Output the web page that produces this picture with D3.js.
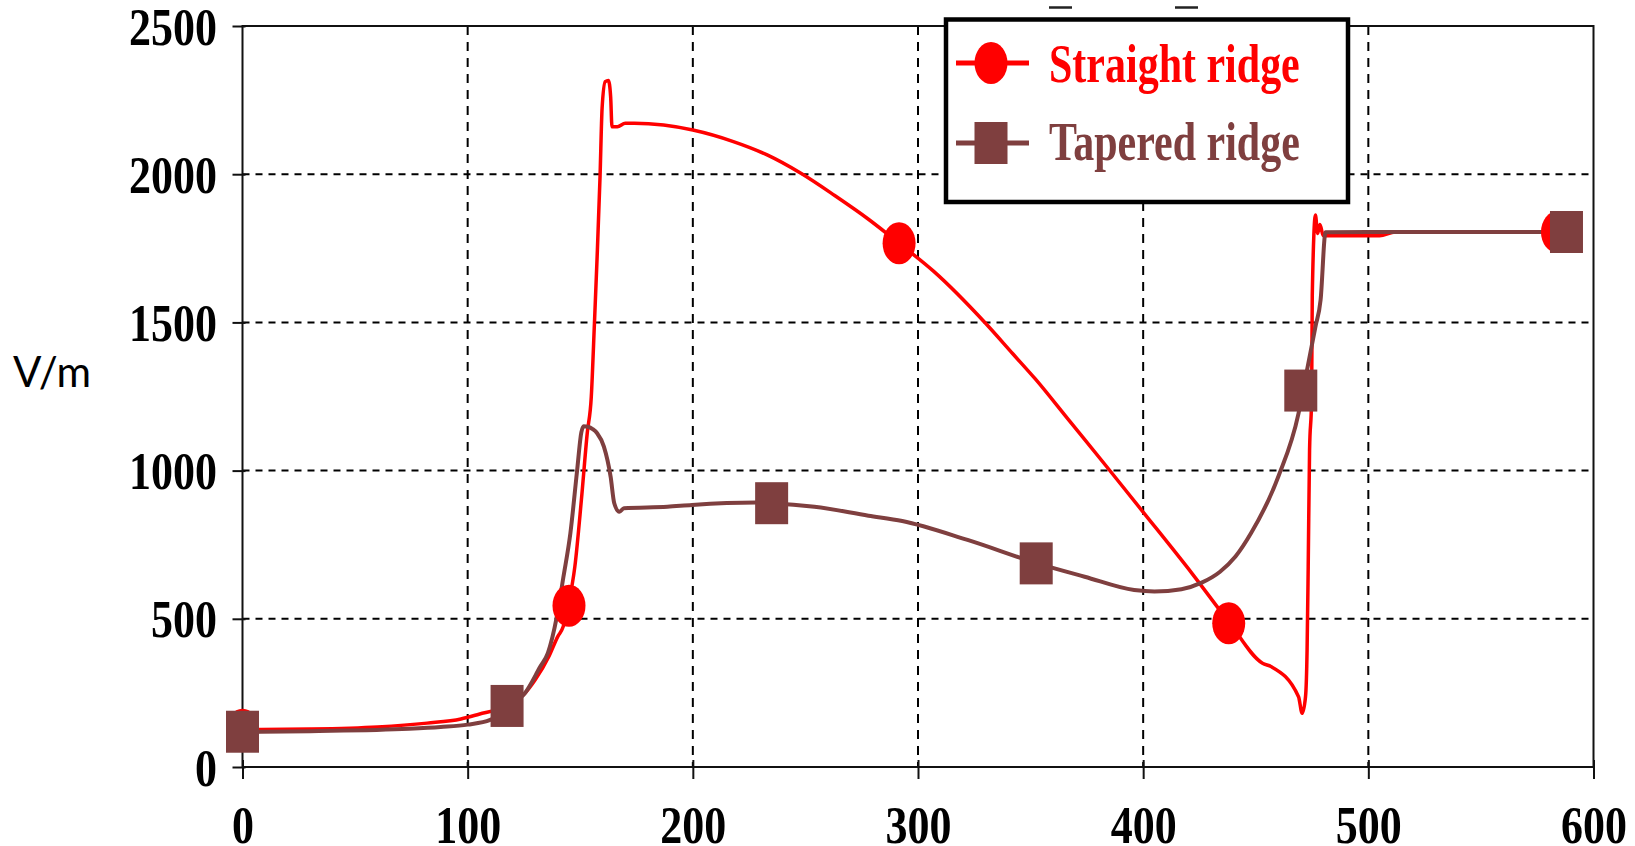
<!DOCTYPE html>
<html>
<head>
<meta charset="utf-8">
<script src="https://cdn.jsdelivr.net/npm/d3@7"></script>
<style>
  body { margin: 0; background: #fff; }
  svg { display: block; }
  .tick text { font-family: "Liberation Serif", "Times New Roman", serif; font-weight: bold; font-size: 44px; fill: #000; }
  .grid line { stroke: #000; stroke-width: 2; }
  .legend text { font-family: "Liberation Serif", "Times New Roman", serif; font-weight: bold; font-size: 42px; }
</style>
</head>
<body>
<div id="chart"></div>
<script>
// series names + colours
let seriesNames = ["Straight ridge", "Tapered ridge"];
let seriesColors = ["#ff0000", "#7f3f3f"];

// straight ridge curve (x, V/m)
let straightX = [0, 30, 60, 82, 97, 105, 117, 125, 130, 136, 140, 142.4, 144.6, 147.6, 150.5, 153.1, 154.9, 156.3, 157.5, 158.8, 159.7, 161.1, 162.5, 163.5, 164.1, 166.5, 170, 174, 187, 200, 218, 233, 248, 263, 278, 291.6, 307, 330, 342, 352, 367, 385, 400, 422, 438, 453, 457, 469, 470.6, 472.1, 472.8, 473.3, 473.9, 474.8, 475.1, 476.5, 477.5, 478.5, 480, 490, 505, 512, 584];
let straightY = [126, 128, 135, 148, 162, 178, 205, 245, 294, 372, 440, 473, 544, 676, 901, 1126, 1249, 1497, 1722, 1994, 2222, 2312, 2316, 2261, 2160, 2160, 2172, 2172, 2166, 2149, 2110, 2065, 2003, 1928, 1848, 1767, 1672, 1497, 1395, 1310, 1170, 1002, 860, 650, 490, 350, 338, 237, 181, 237, 395, 676, 1069, 1238, 1591, 1862, 1800, 1830, 1792, 1792, 1792, 1805, 1805];
let straightMarkX = [0, 145, 291.6, 438, 584];
let straightMarkY = [126, 544, 1767, 485, 1805];

// tapered ridge curve (x, V/m)
let taperedX = [0, 30, 74, 88, 100, 110, 117.5, 125.4, 132.2, 135.6, 139.6, 142.5, 145.6, 148.6, 150.5, 151.5, 153.5, 155.5, 157.5, 160.5, 163.5, 165.1, 167.4, 169.4, 188.7, 199.6, 228, 235, 254, 278, 293, 322, 353, 374, 396, 405, 417, 426, 434, 441, 448, 460, 469, 471, 476.5, 478.8, 481, 500, 588];
let taperedY = [118, 121, 129, 135, 143, 159, 206, 249, 338, 384, 507, 640, 788, 1000, 1130, 1150, 1148, 1140, 1126, 1081, 979, 890, 861, 873, 878, 884, 892, 890, 878, 848, 830, 766, 687, 642, 597, 592, 600, 622, 658, 710, 790, 979, 1193, 1270, 1485, 1576, 1804, 1805, 1805];
let taperedMarkX = [0, 117.5, 235, 352.5, 470, 588];
let taperedMarkY = [119, 206, 890, 687, 1270, 1805];

// axis ticks
let xTicks = [0, 100, 200, 300, 400, 500, 600];
let yTicks = [0, 500, 1000, 1500, 2000, 2500];

let width = 1635;
let height = 846;
let plotLeft = 242.5, plotRight = 1593.5, plotTop = 26, plotBottom = 767;
let stretch = 1.22; // the source is squashed tall

let svg = d3.select("#chart").append("svg")
  .attr("width", width)
  .attr("height", height);

let x = d3.scaleLinear().domain([0, 600]).range([plotLeft, plotRight]);
let y = d3.scaleLinear().domain([0, 2500]).range([plotBottom, plotTop]);

// dashed grid
let grid = svg.append("g").attr("class", "grid");
grid.selectAll("line.v")
  .data(xTicks.slice(1, -1))
  .enter().append("line")
  .attr("class", "v")
  .attr("x1", d => x(d)).attr("x2", d => x(d))
  .attr("y1", plotTop).attr("y2", plotBottom)
  .attr("stroke-dasharray", "9,7");
grid.selectAll("line.h")
  .data(yTicks.slice(1, -1))
  .enter().append("line")
  .attr("class", "h")
  .attr("x1", plotLeft).attr("x2", plotRight)
  .attr("y1", d => y(d)).attr("y2", d => y(d))
  .attr("stroke-dasharray", "7,6");

// frame
svg.append("rect")
  .attr("x", plotLeft).attr("y", plotTop)
  .attr("width", plotRight - plotLeft).attr("height", plotBottom - plotTop)
  .attr("fill", "none").attr("stroke", "#111").attr("stroke-width", 2);

// axes
let yAxis = svg.append("g")
  .attr("transform", "translate(" + plotLeft + ",0)")
  .call(d3.axisLeft(y).tickValues(yTicks).tickSize(10).tickFormat(d3.format("d")));
yAxis.select(".domain").remove();
yAxis.selectAll(".tick line").attr("x1", 3).attr("stroke", "#111").attr("stroke-width", 2);
yAxis.selectAll(".tick text")
  .attr("x", null).attr("dy", null)
  .attr("text-anchor", "end")
  .attr("transform", "translate(-25.5,18) scale(1," + stretch + ")");

let xAxis = svg.append("g")
  .attr("transform", "translate(0," + plotBottom + ")")
  .call(d3.axisBottom(x).tickValues(xTicks).tickSize(12).tickFormat(d3.format("d")));
xAxis.select(".domain").remove();
xAxis.selectAll(".tick line").attr("y1", -7).attr("stroke", "#111").attr("stroke-width", 2);
xAxis.selectAll(".tick text")
  .attr("y", null).attr("dy", null)
  .attr("text-anchor", "middle")
  .attr("transform", "translate(0,76) scale(1," + stretch + ")");

// y label
svg.append("text")
  .attr("x", 13).attr("y", 387)
  .style("font-family", "Lato, 'Liberation Sans', sans-serif")
  .style("font-size", "42px")
  .text("V/m");

// stray marks at the top edge of the source
svg.selectAll("line.stray")
  .data([[1049, 1072], [1175, 1198]])
  .enter().append("line")
  .attr("class", "stray")
  .attr("x1", d => d[0]).attr("x2", d => d[1])
  .attr("y1", 7.5).attr("y2", 7.5)
  .attr("stroke", "#222").attr("stroke-width", 2.5);

let line = d3.line()
  .curve(d3.curveMonotoneX)
  .x(d => x(d[0])).y(d => y(d[1]));
let straight = d3.zip(straightX, straightY);
let tapered = d3.zip(taperedX, taperedY);

svg.append("path").datum(straight)
  .attr("d", line).attr("fill", "none")
  .attr("stroke", seriesColors[0]).attr("stroke-width", 3.5)
  .attr("stroke-linejoin", "round");
svg.append("path").datum(tapered)
  .attr("d", line).attr("fill", "none")
  .attr("stroke", seriesColors[1]).attr("stroke-width", 4)
  .attr("stroke-linejoin", "round");

// markers (tall because of the squash)
let rx = 16.5, ry = 21;
svg.selectAll("ellipse.mk")
  .data(d3.zip(straightMarkX, straightMarkY))
  .enter().append("ellipse")
  .attr("class", "mk")
  .attr("cx", d => x(d[0])).attr("cy", d => y(d[1]))
  .attr("rx", rx).attr("ry", ry)
  .attr("fill", seriesColors[0]);
svg.selectAll("rect.mk")
  .data(d3.zip(taperedMarkX, taperedMarkY))
  .enter().append("rect")
  .attr("class", "mk")
  .attr("x", d => x(d[0]) - rx).attr("y", d => y(d[1]) - ry)
  .attr("width", rx * 2).attr("height", ry * 2)
  .attr("fill", seriesColors[1]);

// legend
let legend = svg.append("g").attr("class", "legend");
legend.append("rect")
  .attr("x", 946).attr("y", 19.5)
  .attr("width", 402).attr("height", 182.5)
  .attr("fill", "#fff").attr("stroke", "#000").attr("stroke-width", 4.5);

let rows = [63, 143];
seriesNames.forEach(function(name, i) {
  let g = legend.append("g").attr("transform", "translate(0," + rows[i] + ")");
  g.append("line")
    .attr("x1", 956).attr("x2", 1029)
    .attr("stroke", seriesColors[i]).attr("stroke-width", 5);
  if (i === 0) {
    g.append("ellipse").attr("cx", 991).attr("rx", rx).attr("ry", ry).attr("fill", seriesColors[i]);
  } else {
    g.append("rect").attr("x", 991 - rx).attr("y", -ry).attr("width", rx * 2).attr("height", ry * 2).attr("fill", seriesColors[i]);
  }
  g.append("text")
    .attr("transform", "translate(1049," + (i === 0 ? 19 : 17) + ") scale(1,1.32)")
    .attr("fill", seriesColors[i])
    .text(name);
});
</script>
</body>
</html>
